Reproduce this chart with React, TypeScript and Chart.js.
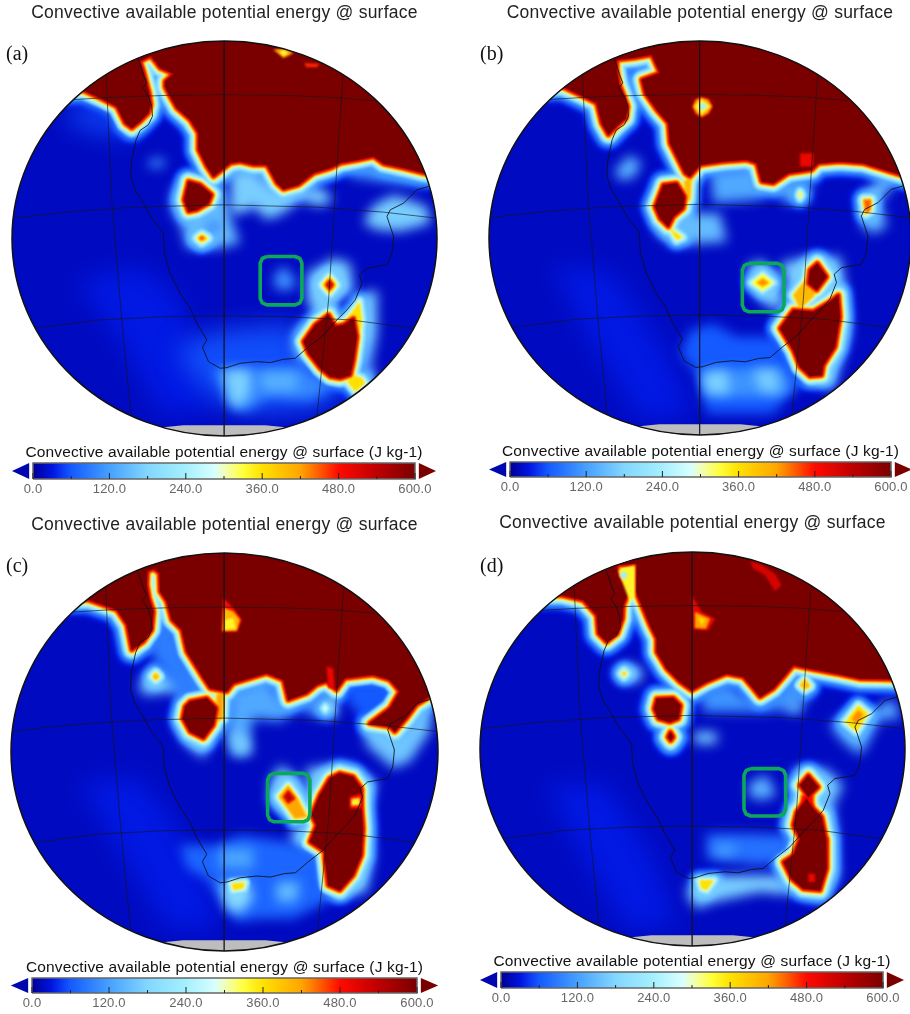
import React, { useEffect, useRef } from "react";
import { Chart, registerables } from "chart.js";

// ---------- colour scale of the field (J kg-1 -> colour) ----------
const scaleValues = [0, 30, 60, 120, 180, 240, 285, 300, 330, 360, 420, 450, 480, 540, 600];
const scaleColours = [
  [0, 0, 150], [0, 20, 225], [20, 90, 255], [70, 160, 255], [130, 215, 255], [165, 240, 255], [215, 255, 255],
  [240, 255, 190], [255, 255, 60], [255, 225, 0], [255, 165, 0], [255, 90, 0], [255, 10, 0], [190, 0, 0], [122, 0, 0],
];
const bandValues = [30, 60, 120, 180, 240, 300, 360, 420, 480, 540, 600];
const bandReach = [17, 14, 11.5, 9, 7, 5, 3.8, 2.8, 2, 1, 0];
const majorTicks = [0, 120, 240, 360, 480, 600];
const minorTicks = [60, 180, 300, 420, 540];

// ---------- geography, in one shared frame ----------
const geoFrame = [36, 1310, 124, 1308];
const coast = [415,180,430,225,440,250,428,265,445,290,455,320,457,350,445,375,420,392,408,420,395,480,392,530,405,570,430,610,455,655,490,700,493,760,510,820,540,880,570,925,590,970,620,1020,607,1042,625,1085,660,1105,680,1103,720,1090,770,1085,810,1088,850,1078,885,1075,920,1045,965,1010,1005,965,1040,930,1065,900,1085,850,1078,825,1100,805,1160,795,1175,760,1180,710,1160,650,1170,630,1210,610,1250,570,1285,560];
const meridians = [
  [672,124,672,1308],
  [318,220,335,600,365,960,393,1250],
  [1028,230,1010,500,985,900,950,1250],
];
const parallels = [
  [215,300,330,293,500,287,672,285,850,287,1000,293,1120,303],
  [37,655,200,637,400,622,672,615,950,622,1150,637,1308,655],
  [105,985,300,960,500,950,672,948,850,950,1050,960,1240,985],
];
const noDataCap = [490,1282,550,1276,795,1276,855,1282,900,1340,450,1340];

// ---------- panel (a) ----------
const ridgesA = [
  [600,[150,0,150,272,250,272,300,295,350,320,375,370,395,385,420,365,445,340,452,315,447,280,430,215,420,185,452,168,480,205,520,222,495,245,495,262,510,290,530,325,570,360,595,400,595,450,620,500,640,530,690,490,720,485,760,495,800,495,830,550,850,568,895,555,940,520,990,505,1020,490,1075,480,1120,470,1150,492,1210,505,1270,520,1400,540,1400,0]],
  [600,[565,545,600,555,635,585,625,610,590,630,565,635,552,600]],
  [600,[985,945,1005,980,1030,975,1060,955,1070,1010,1060,1080,1050,1125,1020,1135,990,1130,960,1105,925,1060,910,1025,945,975]],
  [360,[1078,905,1085,960,1080,1000,1060,975,1030,970]],
  [360,[1060,1125,1085,1135,1095,1150,1065,1175,1040,1145]],
  [360,[590,715,605,703,625,715,605,728]],
  [470,[598,715,605,710,613,715,605,720]],
  [360,[965,855,988,828,1010,855,988,882]],
  [540,[978,855,988,842,998,855,988,868]],
];
const patchesA = [
  [32,[230,850,400,800,500,850,560,950,600,1100,640,1240,480,1240,350,1000]],
  [50,[190,360,240,310,350,330,400,410,300,400]],
  [55,[620,1010,660,990,880,970,900,1050,950,1100,1050,1180,930,1230,750,1240,640,1200,560,1110,530,1050,590,1010]],
  [100,[640,1110,900,1100,1000,1160,930,1200,800,1190,750,1230,700,1230]],
  [110,[445,480,490,475,495,500,450,505]],
  [150,[515,580,545,540,640,540,680,610,700,680,720,730,650,745,560,745,545,680,515,630]],
  [170,[690,510,760,510,830,570,900,570,960,560,1000,600,960,620,900,600,850,640,800,660,760,620,730,640,690,640]],
  [170,[1130,610,1180,585,1280,620,1290,670,1200,695,1130,690,1090,670,1110,630]],
  [120,[1040,510,1120,490,1270,530,1280,560,1180,550,1050,530]],
  [110,[825,820,855,800,890,850,860,875,820,860]],
  [170,[920,820,1000,775,1050,790,1060,880,1010,900,1000,960,950,960,920,900]],
  [170,[1085,880,1130,870,1130,1000,1110,1100,1130,1140,1090,1170]],
  [150,[880,1000,920,950,930,1100,880,1060]],
  [175,[670,1110,750,1110,750,1180,720,1220,690,1210]],
  [140,[780,1120,890,1120,890,1170,790,1170]],
  [60,[625,670,655,670,655,692,625,692]],
];
const spotsA = [
  [420,[820,150,850,145,880,160,850,175]],
  [330,[838,158,850,152,864,160,850,168]],
  [470,[912,190,958,192,950,203,918,203]],
];
const boxA = [780,770,905,915];

// ---------- panel (b) ----------
const ridgesB = [
  [600,[150,0,150,262,310,262,370,290,410,310,425,370,445,405,475,375,498,355,503,320,490,285,478,255,470,210,470,180,520,175,575,165,600,220,545,240,555,280,590,330,625,370,630,430,650,470,675,520,690,530,720,495,790,485,860,480,890,490,905,545,940,550,985,520,1055,510,1075,490,1140,485,1210,490,1290,515,1340,530,1400,540,1400,0]],
  [600,[610,555,650,550,675,590,670,625,640,650,625,680,600,655,585,620]],
  [360,[625,680,645,695,668,712,650,720]],
  [400,[672,545,695,530,690,600,678,600]],
  [400,[1000,885,1040,835,1075,860,1060,890,1020,925]],
  [600,[1072,790,1100,830,1070,870,1045,850,1050,810]],
  [600,[1000,930,1060,935,1110,905,1135,885,1140,950,1125,1040,1090,1095,1085,1125,1050,1128,1020,1100,1000,1050,960,985]],
  [340,[1016,585,1020,575,1026,585,1020,595]],
  [450,[1212,600,1232,600,1230,630,1218,640]],
  [330,[875,848,908,822,940,848,908,872]],
  [430,[892,848,908,836,925,848,908,858]],
];
const patchesB = [
  [32,[280,800,460,820,620,1060,700,1240,540,1260,380,1000]],
  [140,[465,510,510,465,545,490,520,535,475,540]],
  [150,[565,600,590,700,640,735,800,725,780,640,700,640,690,600]],
  [130,[750,515,880,500,915,570,985,540,1060,540,1040,610,980,610,950,580,880,600,760,610]],
  [150,[1205,640,1210,580,1250,540,1300,530,1300,560,1260,600,1280,680,1240,700,1205,680]],
  [170,[860,800,900,780,950,820,975,920,930,925,880,880]],
  [170,[960,790,1040,770,1140,770,1160,880,1170,1000,1130,1130,1120,1170,1020,1130,1000,1080,980,1020,1000,900]],
  [60,[690,990,760,970,830,1010,960,1010,980,1080,1050,1140,1000,1170,940,1240,740,1240,710,1120,660,1060]],
  [110,[720,1110,960,1100,1000,1170,940,1190,740,1190]],
  [175,[730,1120,800,1110,810,1180,740,1180]],
  [170,[880,1110,950,1110,960,1180,900,1170]],
];
const spotsB = [
  [520,[695,320,705,297,725,290,748,297,760,320,748,343,725,355,705,343]],
  [420,[699,320,708,300,725,294,745,300,756,320,745,340,725,351,708,340]],
  [340,[703,320,725,298,752,320,725,345]],
  [240,[714,320,730,308,742,320,727,332]],
  [500,[1020,460,1060,460,1060,500,1020,500]],
];
const boxB = [847,790,972,935];

// ---------- panel (c) ----------
const ridgesC = [
  [600,[150,0,150,285,265,285,350,315,380,360,395,435,430,410,455,375,460,320,447,280,440,240,442,200,460,192,478,205,480,260,500,290,515,345,545,375,560,440,610,520,630,550,680,560,700,535,800,505,850,525,865,585,920,565,950,540,980,530,1010,555,1035,520,1120,510,1170,525,1200,560,1170,610,1110,655,1170,665,1185,680,1220,640,1250,600,1290,575,1400,570,1400,0]],
  [600,[570,590,620,580,650,610,640,660,610,700,570,680,548,640,555,605]],
  [420,[650,570,672,562,668,640,650,650]],
  [600,[1020,805,1060,815,1085,850,1085,905,1090,970,1085,1050,1060,1110,1020,1155,985,1140,975,1060,975,1040,930,1010,950,960,935,930,960,870,990,820]],
  [420,[838,875,865,842,895,885,920,935,885,940,860,905]],
  [540,[852,875,865,858,883,880,865,893]],
  [400,[458,515,467,505,477,515,467,525]],
  [290,[970,610,976,602,982,610,976,618]],
  [360,[695,1135,735,1132,730,1150,700,1155]],
];
const patchesC = [
  [32,[240,830,420,820,520,950,620,1120,660,1270,500,1270,350,1020]],
  [170,[415,540,450,490,580,520,600,550,530,560,430,570]],
  [90,[440,420,480,350,530,370,560,470,620,560,550,600,470,480]],
  [170,[520,650,550,590,640,700,610,760,560,720]],
  [130,[690,560,800,520,850,590,920,600,980,560,1010,640,960,640,900,610,840,650,760,640,740,750,700,750,680,690]],
  [170,[690,680,740,690,760,745,700,750]],
  [190,[980,580,1010,580,1010,630,970,630]],
  [60,[1040,530,1170,530,1190,570,1100,650,1040,590]],
  [160,[1090,660,1130,660,1200,680,1240,640,1260,600,1300,600,1290,680,1230,770,1180,790,1100,720]],
  [170,[840,780,900,820,930,920,900,950,810,900,810,830]],
  [170,[920,790,1000,780,1050,780,1130,830,1110,900,1120,1060,1100,1160,1000,1180,960,1130,950,1060,870,1020,880,970,930,950]],
  [70,[650,1020,720,990,860,1010,960,1040,960,1130,1000,1180,880,1240,780,1240,710,1250,670,1200,620,1120,560,1090,540,1020,600,1020]],
  [190,[660,1135,740,1120,760,1180,720,1225,680,1210]],
  [150,[830,1130,900,1130,890,1190,830,1190]],
  [125,[660,1030,760,1030,760,1090,660,1090]],
];
const spotsC = [
  [480,[670,280,700,310,725,345,712,380,665,380]],
  [400,[672,310,700,320,720,345,710,378,668,378]],
  [340,[675,345,700,340,708,372,675,375]],
  [500,[980,485,1000,490,1005,550,985,550]],
  [480,[1050,875,1085,865,1085,910,1050,910]],
  [340,[1055,882,1080,878,1080,900,1055,902]],
];
const boxC = [803,805,930,950];

// ---------- panel (d) ----------
const ridgesD = [
  [600,[150,0,150,270,305,270,370,285,410,330,415,385,440,410,472,385,488,340,490,300,505,265,495,245,475,215,470,180,530,175,528,260,545,300,570,360,590,400,590,440,620,490,660,530,695,555,740,530,800,505,850,515,880,550,900,575,940,550,975,510,1000,480,1050,490,1130,505,1200,520,1290,522,1400,530,1400,0]],
  [600,[590,580,640,578,662,600,655,640,630,650,595,640,582,610]],
  [360,[615,695,630,665,648,695,632,718]],
  [600,[624,695,631,680,640,695,632,706]],
  [370,[485,505,492,497,500,505,492,513]],
  [400,[1020,540,1035,522,1050,542,1035,552]],
  [360,[1155,650,1195,600,1225,625,1190,680]],
  [430,[1175,640,1195,615,1210,628,1190,655]],
  [480,[1025,870,1060,870,1060,920,1020,920]],
  [600,[1045,810,1075,845,1045,875,1020,840]],
  [600,[1040,880,1060,910,1085,935,1098,1000,1100,1090,1080,1155,1030,1150,995,1120,970,1070,1000,1050,1020,1000,1000,960,1010,920]],
  [360,[718,1125,762,1125,740,1155,725,1150]],
];
const patchesD = [
  [32,[260,840,440,840,580,1060,650,1260,500,1270,360,1030]],
  [170,[465,490,500,475,550,490,540,530,480,530]],
  [110,[720,560,800,530,880,590,950,570,980,520,1040,510,1060,570,1000,610,900,620,730,620]],
  [170,[700,680,770,680,770,715,705,715]],
  [150,[980,590,1030,590,1020,625,980,620]],
  [140,[870,830,920,810,950,870,900,885,865,870]],
  [140,[1110,660,1160,620,1230,620,1300,580,1320,640,1260,640,1220,720,1200,750,1150,710]],
  [160,[1000,790,1100,790,1150,840,1120,900,1130,1000,1135,1120,1080,1190,1000,1160,960,1080,990,1020,970,960,1000,880]],
  [80,[740,985,860,985,990,990,980,1060,900,1080,740,1060]],
  [125,[760,1020,830,1020,820,1050,770,1050]],
  [170,[690,1130,780,1110,960,1110,1000,1170,900,1160,760,1190,710,1210,680,1170]],
];
const spotsD = [
  [340,[475,195,525,180,525,270,510,290,495,250]],
  [230,[478,208,492,198,504,210,490,224]],
  [520,[870,168,900,175,945,205,965,240,945,258,915,210,880,190]],
  [500,[695,270,725,320,765,340,745,375,700,372]],
  [420,[705,320,750,340,738,370,705,368]],
  [360,[715,335,735,342,725,362]],
  [500,[1045,1105,1065,1105,1065,1130,1045,1130]],
];
const boxD = [852,790,977,932];

// ---------- page layout of the four panels ----------
const titleText = "Convective available potential energy @ surface";
const barTitleText = "Convective available potential energy @ surface (J kg-1)";
const panels = [
  { tag: "(a)", cx: 224, top: 0, titleY: 13, ell: [12, 437, 41, 436], frame: [36, 1310, 124, 1308], box: boxA, ridges: ridgesA, patches: patchesA, spots: spotsA, bar: [33, 415, 463, 479], barCx: 224, tagX: 6, tagY: 41 },
  { tag: "(b)", cx: 700, top: 0, titleY: 13, ell: [489, 911, 41, 435], frame: [87, 1353, 124, 1304], box: boxB, ridges: ridgesB, patches: patchesB, spots: spotsB, bar: [510, 891, 462, 477], barCx: 700, tagX: 480, tagY: 41 },
  { tag: "(c)", cx: 224, top: 505, titleY: 525, ell: [11, 438, 553, 951], frame: [32, 1315, 145, 1337], box: boxC, ridges: ridgesC, patches: patchesC, spots: spotsC, bar: [32, 417, 978, 993], barCx: 224, tagX: 6, tagY: 553 },
  { tag: "(d)", cx: 692, top: 505, titleY: 523, ell: [480, 905, 552, 946], frame: [60, 1335, 140, 1322], box: boxD, ridges: ridgesD, patches: patchesD, spots: spotsD, bar: [501, 883, 972, 988], barCx: 692, tagX: 480, tagY: 553 },
];

// ---------- helpers ----------
const lerpTable = (v: number, xs: number[], ys: number[]) => {
  for (let i = 1; i < xs.length; i++) {
    if (v <= xs[i]) return ys[i - 1] + ((v - xs[i - 1]) / (xs[i] - xs[i - 1])) * (ys[i] - ys[i - 1]);
  }
  return ys[ys.length - 1];
};
const colourAt = (v: number) =>
  "rgb(" + [0, 1, 2].map((k) => Math.round(lerpTable(v, scaleValues, scaleColours.map((c) => c[k])))).join(",") + ")";
const reachAt = (v: number) => lerpTable(v, bandValues, bandReach);
const toPoints = (flat: number[], closed = false) => {
  const pts: { x: number; y: number }[] = [];
  for (let i = 0; i < flat.length; i += 2) pts.push({ x: flat[i], y: flat[i + 1] });
  if (closed) pts.push(pts[0]);
  return pts;
};
const roundedBox = ([x0, y0, x1, y1]: number[]) => {
  const c = 20, d = 6;
  return [x0+c,y0, x1-c,y0, x1-d,y0+d, x1,y0+c, x1,y1-c, x1-d,y1-d, x1-c,y1, x0+c,y1, x0+d,y1-d, x0,y1-c, x0,y0+c, x0+d,y0+d];
};

const mapFrame = {
  id: "mapFrame",
  beforeDraw(chart: any) {
    chart.ctx.letterSpacing = chart.canvas.dataset.spacing || "0px";
  },
  beforeDatasetsDraw(chart: any) {
    if (!chart.canvas.dataset.map) return;
    const { ctx, chartArea: a } = chart;
    ctx.save();
    ctx.beginPath();
    ctx.ellipse((a.left + a.right) / 2, (a.top + a.bottom) / 2, (a.right - a.left) / 2, (a.bottom - a.top) / 2, 0, 0, Math.PI * 2);
    ctx.clip();
  },
  beforeDatasetDraw(chart: any, args: any) {
    const b = chart.data.datasets[args.index].blur;
    if (b) chart.ctx.filter = `blur(${b}px)`;
  },
  afterDatasetDraw(chart: any) {
    chart.ctx.filter = "none";
  },
  afterDatasetsDraw(chart: any) {
    if (!chart.canvas.dataset.map) return;
    const { ctx, chartArea: a } = chart;
    ctx.restore();
    ctx.beginPath();
    ctx.ellipse((a.left + a.right) / 2, (a.top + a.bottom) / 2, (a.right - a.left) / 2, (a.bottom - a.top) / 2, 0, 0, Math.PI * 2);
    ctx.lineWidth = 1.5;
    ctx.strokeStyle = "#111";
    ctx.stroke();
  },
};
Chart.register(mapFrame);
Chart.register(...registerables);

const base = { pointRadius: 0, tension: 0, clip: false };
const filled = (level: number, flat: number[], blur: number, extra: any = {}) => ({
  ...base, data: toPoints(flat, true), fill: "shape", backgroundColor: colourAt(level),
  borderWidth: 0, blur, xAxisID: "x", yAxisID: "y", ...extra,
});

function mapDatasets(p: any) {
  const out: any[] = [];
  const geo = { xAxisID: "xg", yAxisID: "yg" };
  out.push(filled(17, [-100,-100,1500,-100,1500,1500,-100,1500], 0, geo));
  const bandsUpTo = (from: number, to: number) => {
    bandValues.forEach((v, i) => {
      if (v < from || v > to) return;
      p.ridges.forEach(([lv, pts]: any) => {
        if (lv > v) {
          out.push({
            ...base, data: toPoints(pts, true), fill: false, borderColor: colourAt(v),
            borderWidth: 2 * (reachAt(v) - reachAt(lv)), borderJoinStyle: "round", borderCapStyle: "round",
            blur: v <= 120 ? 2.5 : 0.8, xAxisID: "x", yAxisID: "y",
          });
        }
        const prev = i === 0 ? 0 : bandValues[i - 1];
        if (lv > prev && lv <= v) out.push(filled(lv, pts, lv < 600 ? 1.2 : 0.6));
      });
    });
  };
  bandsUpTo(0, 120);
  p.patches.forEach(([lv, pts]: any) => out.push(filled(lv, pts, lv < 60 ? 12 : 6)));
  bandsUpTo(180, 600);
  p.spots.forEach(([lv, pts]: any) => out.push(filled(lv, pts, 1.2)));
  out.push({ ...base, ...geo, data: toPoints(noDataCap, true), fill: "shape", backgroundColor: "#bdbdbd", borderWidth: 0 });
  [...meridians, ...parallels].forEach((m) =>
    out.push({ ...base, ...geo, data: toPoints(m), fill: false, borderColor: "rgba(20,20,30,0.7)", borderWidth: 0.9 }));
  out.push({ ...base, ...geo, data: toPoints(coast), fill: false, borderColor: "rgba(15,15,30,0.85)", borderWidth: 1, borderJoinStyle: "round" });
  out.push({
    ...base, data: toPoints(roundedBox(p.box), true), fill: false, borderColor: "#0ca85a", borderWidth: 3.6,
    borderJoinStyle: "round", xAxisID: "x", yAxisID: "y",
  });
  return out.reverse();
}

const TITLE_SIZE = 17.5;
const BAR_TITLE_SIZE = 15.5;

function MapChart({ p }: { p: any }) {
  const ref = useRef<HTMLCanvasElement>(null);
  const left = p.cx - 225, width = 450, height = p.ell[3] + 5 - p.top;
  useEffect(() => {
    const lh = TITLE_SIZE * 1.2;
    const padTop = p.titleY - p.top - lh / 2;
    const padBottom = p.ell[2] - p.top - padTop - lh;
    const hidden = { type: "linear", display: false };
    const chart = new Chart(ref.current as any, {
      type: "line",
      data: { datasets: mapDatasets(p) },
      options: {
        responsive: false, animation: false, events: [],
        layout: { autoPadding: false, padding: { left: p.ell[0] - left, right: left + width - p.ell[1], bottom: 5, top: 0 } },
        plugins: {
          legend: { display: false }, tooltip: { enabled: false },
          title: {
            display: true, text: titleText, color: "#222",
            font: { family: "'Liberation Sans'", size: TITLE_SIZE, weight: "normal" },
            padding: { top: padTop, bottom: padBottom },
          },
        },
        scales: {
          x: { ...hidden, min: p.frame[0], max: p.frame[1] },
          y: { ...hidden, min: p.frame[2], max: p.frame[3], reverse: true },
          xg: { ...hidden, axis: "x", min: geoFrame[0], max: geoFrame[1] },
          yg: { ...hidden, axis: "y", min: geoFrame[2], max: geoFrame[3], reverse: true },
        },
      },
    } as any);
    return () => chart.destroy();
  }, [p]);
  return (
    <canvas ref={ref} width={width} height={height} data-map="1" data-spacing="0.25px"
      style={{ position: "absolute", left, top: p.top, width, height, filter: "blur(0.35px)" }} />
  );
}

function BarChart({ p }: { p: any }) {
  const ref = useRef<HTMLCanvasElement>(null);
  const [b0, b1, y0, y1] = p.bar;
  const left = p.barCx - 225, width = 450, top = y0 - 22, height = y1 - top + 22;
  useEffect(() => {
    const lowEnd = -34, highEnd = 634;
    const u = (b1 - b0) / 600;
    const lh = BAR_TITLE_SIZE * 1.2;
    const h = y1 - y0;
    const gradient = (c: any) => {
      const g = c.chart.ctx.createLinearGradient(b0 - left, 0, b1 - left, 0);
      scaleValues.forEach((v) => g.addColorStop(v / 600, colourAt(v)));
      return g;
    };
    const line = { ...base };
    const chart = new Chart(ref.current as any, {
      type: "line",
      data: {
        datasets: [
          { ...line, data: majorTicks.map((x) => ({ x, y: 3 / h })), showLine: false, pointStyle: "line", rotation: 90, pointRadius: 3, pointBorderColor: "#222", pointBorderWidth: 1 },
          { ...line, data: minorTicks.map((x) => ({ x, y: 1.5 / h })), showLine: false, pointStyle: "line", rotation: 90, pointRadius: 1.5, pointBorderColor: "#222", pointBorderWidth: 1 },
          { ...line, data: toPoints([0,0,600,0,600,1,0,1], true), fill: false, borderColor: "#666", borderWidth: 1.5 },
          { ...line, data: toPoints([0,0,600,0,600,1,0,1], true), fill: "shape", backgroundColor: gradient, borderWidth: 0 },
          { ...line, data: toPoints([-6,0,-33,0.5,-6,1], true), fill: "shape", backgroundColor: colourAt(10), borderWidth: 0 },
          { ...line, data: toPoints([606,0,633,0.5,606,1], true), fill: "shape", backgroundColor: colourAt(600), borderWidth: 0 },
        ],
      },
      options: {
        responsive: false, animation: false, events: [],
        layout: {
          autoPadding: false,
          padding: { left: b0 + lowEnd * u - left, right: left + width - (b0 + highEnd * u), top: 0, bottom: 0 },
        },
        plugins: {
          legend: { display: false }, tooltip: { enabled: false },
          title: {
            display: true, text: barTitleText, color: "#111",
            font: { family: "'Liberation Sans'", size: BAR_TITLE_SIZE, weight: "normal" },
            padding: { top: 12 - lh / 2, bottom: 22 - 12 - lh / 2 },
          },
        },
        scales: {
          x: {
            type: "linear", min: lowEnd, max: highEnd,
            grid: { display: false, drawTicks: false }, border: { display: false },
            afterBuildTicks: (a: any) => { a.ticks = majorTicks.map((value) => ({ value })); },
            afterFit: (a: any) => { a.height = 22; },
            ticks: {
              autoSkip: false, maxRotation: 0, padding: 3, color: "#666",
              font: { family: "'Liberation Sans'", size: 13 },
              callback: (v: any) => Number(v).toFixed(1),
            },
          },
          y: { type: "linear", display: false, min: 0, max: 1 },
        },
      },
    } as any);
    return () => chart.destroy();
  }, [p]);
  return (
    <canvas ref={ref} width={width} height={height} data-spacing="0.15px"
      style={{ position: "absolute", left, top, width, height, filter: "blur(0.35px)" }} />
  );
}

export default function App() {
  return (
    <div style={{ position: "absolute", left: 0, top: 0, width: 910, height: 1014, overflow: "hidden", background: "#fff" }}>
      {panels.map((p) => (
        <React.Fragment key={p.tag}>
          <MapChart p={p} />
          <BarChart p={p} />
          <div style={{ position: "absolute", left: p.tagX, top: p.tagY, fontFamily: "'Liberation Serif'", fontSize: 20, lineHeight: "24px", color: "#111" }}>{p.tag}</div>
        </React.Fragment>
      ))}
    </div>
  );
}
